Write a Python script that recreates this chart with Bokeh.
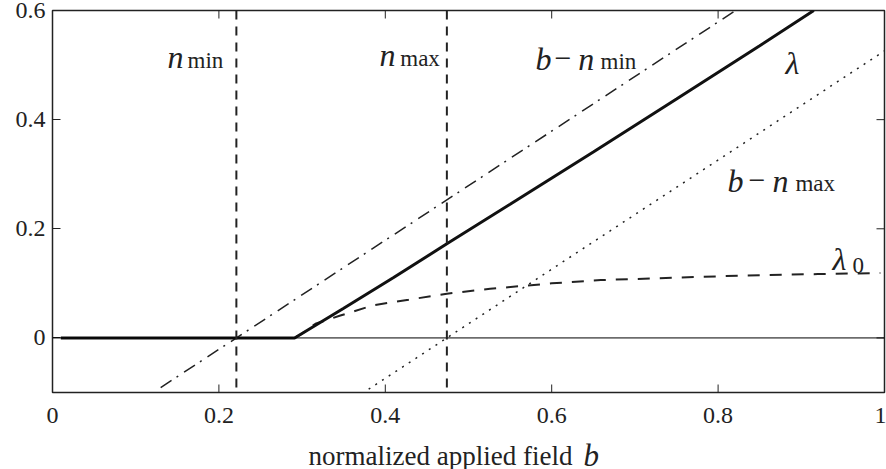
from bokeh.plotting import figure
from bokeh.layouts import column
from bokeh.models import Range1d, FixedTicker, Span, ColumnDataSource, LinearAxis
from bokeh.core.properties import value
from bokeh.embed import file_html
from bokeh.resources import INLINE
import math

# ---- data ----
n_min = 0.221
n_max = 0.474

lam_b = [0.01, 0.291, 0.35, 0.41, 0.474, 0.55, 0.65, 0.75, 0.85, 0.915]
lam_v = [0.0, 0.0, 0.0545, 0.1106, 0.1725, 0.2449, 0.3409, 0.4377, 0.5353, 0.6]

lam0_b = [0.291, 0.30, 0.316, 0.346, 0.386, 0.428, 0.474, 0.526, 0.60, 0.659, 0.72, 0.779, 0.85, 0.92, 0.995]
lam0_v = [0.0, 0.008, 0.026, 0.041, 0.060, 0.070, 0.081, 0.090, 0.100, 0.106, 0.109, 0.112, 0.115, 0.117, 0.119]

bmin_b = [0.13, 0.821]
bmin_v = [-0.091, 0.6]

bmax_b = [0.38, 1.0]
bmax_v = [-0.094, 0.526]

x_ticks = [0, 0.2, 0.4, 0.6, 0.8, 1]
x_tick_labels = ["0", "0.2", "0.4", "0.6", "0.8", "1"]
y_ticks = [0, 0.2, 0.4, 0.6]
y_tick_labels = ["0", "0.2", "0.4", "0.6"]

x_title = "normalized applied field"
x_symbol = "b"

FONT = "Times New Roman"
INK = "#222222"

# ---------------- main chart ----------------
p = figure(frame_width=832, frame_height=382,
           x_range=Range1d(0, 1), y_range=Range1d(-0.1, 0.6),
           x_axis_location=None,
           output_backend="svg", toolbar_location=None,
           min_border_left=52, min_border_right=2, min_border_top=10, min_border_bottom=2,
           background_fill_color="white", border_fill_color="white")
p.grid.visible = False
p.outline_line_color = INK
p.outline_line_width = 1.5

ya = p.yaxis[0]
ya.ticker = FixedTicker(ticks=y_ticks)
ya.major_label_overrides = {t: l for t, l in zip(y_ticks, y_tick_labels)}
ya.axis_line_color = None
ya.major_tick_in = 8
ya.major_tick_out = 0
ya.major_tick_line_color = INK
ya.minor_tick_line_color = None
ya.major_label_text_font = FONT
ya.major_label_text_color = INK
ya.major_label_text_font_size = "24px"
ya.major_label_standoff = 7

# inward ticks on bottom, top and right edges of the box
p.ray(x=x_ticks, y=[-0.1] * len(x_ticks), length=8, length_units="screen",
      angle=math.pi / 2, line_color=INK, line_width=1)
p.ray(x=x_ticks, y=[0.6] * len(x_ticks), length=8, length_units="screen",
      angle=-math.pi / 2, line_color=INK, line_width=1)
p.ray(x=[1] * len(y_ticks), y=y_ticks, length=8, length_units="screen",
      angle=math.pi, line_color=INK, line_width=1)

# zero line
p.add_layout(Span(location=0, dimension="width", line_color="black", line_width=1))
# vertical n_min / n_max
for loc in (n_min, n_max):
    p.add_layout(Span(location=loc, dimension="height", line_color=INK,
                      line_width=2, line_dash="9 7"))

p.line(bmin_b, bmin_v, line_color=INK, line_width=1.5, line_dash="13 6 2 7")
p.line(bmax_b, bmax_v, line_color=INK, line_width=1.5, line_dash="2 6")
p.line(lam0_b, lam0_v, line_color=INK, line_width=2, line_dash="12 10")
p.line(lam_b, lam_v, line_color="#111111", line_width=3)

# ---- math labels (positions in data units) ----
it_src = ColumnDataSource(dict(
    x=[0.1382, 0.393, 0.5805, 0.632, 0.881, 0.8113, 0.8654, 0.9375],
    y=[0.5156, 0.519, 0.512, 0.512, 0.5046, 0.288, 0.288, 0.145],
    t=["n", "n", "b", "n", "λ", "b", "n", "λ"]))
p.text(x="x", y="y", text="t", source=it_src, text_font=value(FONT),
       text_font_style="italic", text_font_size="32px", text_color=INK,
       text_baseline="alphabetic", text_align="left")

op_src = ColumnDataSource(dict(x=[0.6034, 0.8365], y=[0.512, 0.288], t=["−", "−"]))
p.text(x="x", y="y", text="t", source=op_src, text_font=value(FONT),
       text_font_size="30px", text_color=INK,
       text_baseline="alphabetic", text_align="left")

sub_src = ColumnDataSource(dict(
    x=[0.1623, 0.418, 0.6587, 0.893, 0.9615],
    y=[0.508, 0.512, 0.5064, 0.2826, 0.132],
    t=["min", "max", "min", "max", "0"]))
p.text(x="x", y="y", text="t", source=sub_src, text_font=value(FONT),
       text_font_size="23px", text_color=INK,
       text_baseline="alphabetic", text_align="left")

# ---------------- strip below: x tick labels + axis title ----------------
q = figure(frame_width=832, frame_height=42, x_range=p.x_range, y_range=Range1d(0, 42),
           x_axis_location=None, y_axis_location=None,
           output_backend="svg", toolbar_location=None,
           min_border_left=52, min_border_right=2, min_border_top=33, min_border_bottom=0,
           background_fill_color="white", border_fill_color="white")
q.grid.visible = False
q.outline_line_color = None

xa = LinearAxis(ticker=FixedTicker(ticks=x_ticks))
xa.major_label_overrides = {t: l for t, l in zip(x_ticks, x_tick_labels)}
xa.axis_line_color = None
xa.major_tick_in = 0
xa.major_tick_out = 0
xa.major_tick_line_color = None
xa.minor_tick_line_color = None
xa.major_label_text_font = FONT
xa.major_label_text_color = INK
xa.major_label_text_font_size = "24px"
xa.major_label_standoff = 5
q.add_layout(xa, "above")

q.text(x=[0.3077], y=[14], text=[x_title], text_font=value(FONT),
       text_font_size="27px", text_color=INK, text_baseline="alphabetic", text_align="left")
q.text(x=[0.6382], y=[14], text=[x_symbol], text_font=value(FONT),
       text_font_style="italic", text_font_size="31px", text_color=INK,
       text_baseline="alphabetic", text_align="left")

layout = column(p, q, spacing=0)
open("out.html", "w").write(file_html(layout, INLINE))
